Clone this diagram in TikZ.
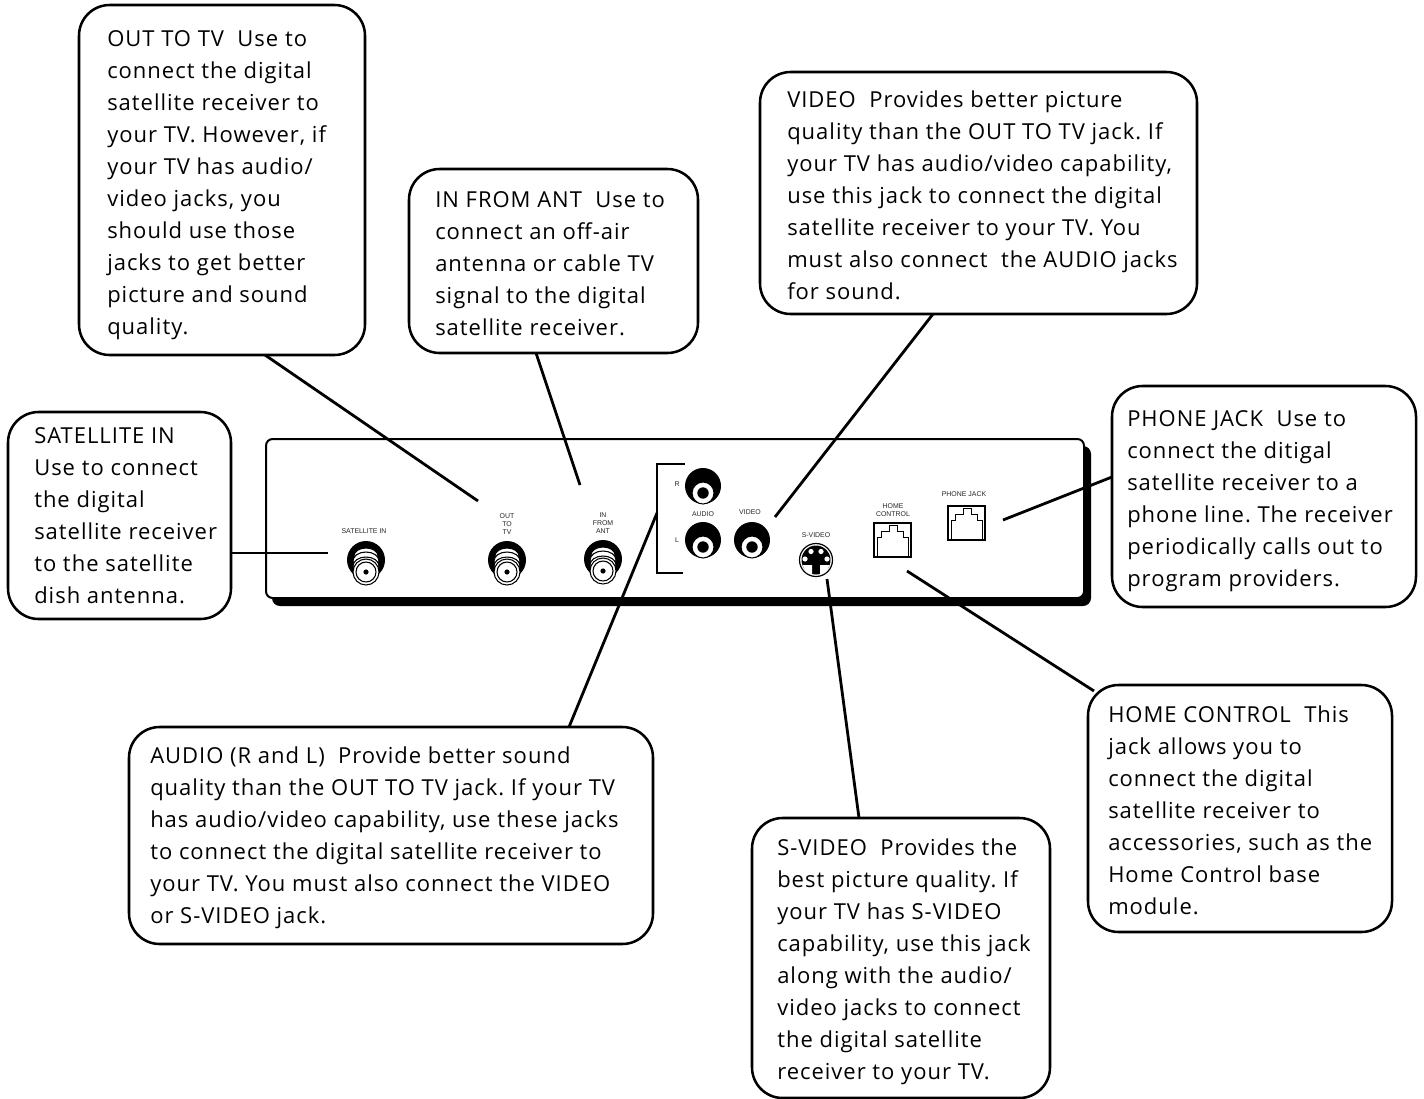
\documentclass[tikz,border=0pt]{standalone}
\usepackage{fontspec}
\setmainfont[LetterSpace=4.5]{Open Sans}
\newfontfamily\lblfont{Liberation Sans}
\newcommand{\callout}[8]{%
  \pgfmathsetlengthmacro{\cw}{(#4-#2)*0.75pt}%
  \pgfmathsetlengthmacro{\ch}{(#5-#3)*0.75pt}%
  \node[callout box,minimum width=\cw,minimum height=\ch] (#1) at ({(#2+#4)/2},{(#3+#5)/2}) {};
  \node[callout text] (#1t) at ({#2+#6},{#7-14.4}) {\strut #8};}
\tikzset{
  x=0.75pt,y=-0.75pt,
  callout box/.style={draw=black,line width=1.9pt,fill=white,rounded corners=23pt,anchor=center,inner sep=0pt},
  callout text/.style={anchor=north west,align=left,inner sep=0pt,
    font=\fontsize{16.5}{24}\selectfont\frenchspacing},
  leader/.style={draw=black,line width=2.1pt},
  tiny label/.style={font=\lblfont\fontsize{5.2}{6}\selectfont,align=center,inner sep=0pt,text=black!85},
  jack line/.style={draw=black,line width=0.8pt,fill=white},
  coax/.pic={
    \fill[black] (0,-12) circle [radius=19];
    \draw[jack line] (0,-16) ellipse [x radius=12,y radius=8];
    \draw[jack line] (0,-11) ellipse [x radius=13,y radius=9];
    \draw[jack line] (0,-6) ellipse [x radius=13,y radius=9];
    \draw[jack line] (0,0) circle [radius=13];
    \draw[jack line] (0,0) circle [radius=10];
    \fill[black] (0,0) circle [radius=2.6];
  },
  rca/.pic={
    \fill[black] (0,-7) circle [radius=18];
    \draw[jack line] (0,0) circle [radius=11];
    \fill[black] (0,0) circle [radius=5.7];
  },
  modjack/.pic={
    \draw[black,line width=0.8pt,fill=white] (0,0) rectangle (37,34);
    \draw[black,line width=0.6pt] (3,34) -- (3,14) -- (7,14) -- (7,8) -- (15,8) -- (15,2.5) -- (23,2.5) -- (23,8) -- (29,8) -- (29,14) -- (34,14) -- (34,34);
  }
}
\begin{document}
\begin{tikzpicture}
\useasboundingbox (0,0) rectangle (1424,1099);
% device body
\fill[black,rounded corners=6pt] (272,446) rectangle (1091,606);
\draw[black,line width=1.5pt,fill=white,rounded corners=5pt] (266,439) rectangle (1084,598);
% connector free ends
\coordinate (endOut) at (478,501);
\coordinate (endAnt) at (580,485);
\coordinate (endVid) at (775,517);
\coordinate (endSat) at (328,553);
\coordinate (endPhone) at (1003,520);
\coordinate (endAudio) at (657,513);
\coordinate (endS) at (827,579);
\coordinate (endHome) at (907,571);
% bracket
\draw[black,line width=1.5pt] (685,464) -- (657,464) -- (657,573) -- (683,573);
% jacks
\pic at (366,572) {coax};
\pic at (507,572) {coax};
\pic at (603,571) {coax};
\pic at (703,493) {rca};
\pic at (703,547) {rca};
\pic at (752,547) {rca};
% s-video
\draw[black,line width=0.9pt,fill=white] (816,560) circle [radius=16.5];
\fill[black] (816,560) circle [radius=14.5];
\fill[white] (811,551.5) circle [radius=2.6] (821,551.5) circle [radius=2.6] (805,559) circle [radius=2.6] (827,559) circle [radius=2.6];
\fill[white] (802.5,565) -- (812,565) -- (812,574.5) -- (806,572) -- cycle (829.5,565) -- (820,565) -- (820,574.5) -- (826,572) -- cycle;
% modular jacks
\pic at (874,523) {modjack};
\pic at (948,506) {modjack};
% small labels
\node[tiny label] (lSat) at (364,531.5) {SATELLITE IN};
\node[tiny label] (lOut) at (507,524) {OUT\\TO\\TV};
\node[tiny label] (lAnt) at (603,523) {IN\\FROM\\ANT};
\node[tiny label] (lR) at (677,484) {R};
\node[tiny label] (lL) at (677,540) {L};
\node[tiny label] (lAudio) at (703,514.5) {AUDIO};
\node[tiny label] (lVideo) at (750,512.5) {VIDEO};
\node[tiny label] (lS) at (816,535.5) {S-VIDEO};
\node[tiny label] (lHome) at (893,510) {HOME\\CONTROL};
\node[tiny label] (lPhone) at (964,494.5) {PHONE JACK};
% callouts
\callout{cOut}{79}{5}{365}{355}{28}{38}{OUT TO TV~ Use to\\connect the digital\\satellite receiver to\\your TV. However, if\\your TV has audio/\\video jacks, you\\should use those\\jacks to get better\\picture and sound\\quality.}
\callout{cAnt}{409}{169}{698}{353}{26}{199}{IN FROM ANT~ Use to\\connect an off-air\\antenna or cable TV\\signal to the digital\\satellite receiver.}
\callout{cVid}{760}{72}{1197}{314}{27}{99}{VIDEO~ Provides better picture\\quality than the OUT TO TV jack. If\\your TV has audio/video capability,\\use this jack to connect the digital\\satellite receiver to your TV. You\\must also connect~ the AUDIO jacks\\for sound.}
\callout{cSat}{8}{412}{231}{619}{26}{435}{SATELLITE IN\\Use to connect\\the digital\\satellite receiver\\to the satellite\\dish antenna.}
\callout{cPhone}{1112}{386}{1416}{607}{15}{418}{PHONE JACK~ Use to\\connect the ditigal\\satellite receiver to a\\phone line. The receiver\\periodically calls out to\\program providers.}
\callout{cAudio}{129}{727}{653}{944}{21}{755}{AUDIO (R and L)~ Provide better sound\\quality than the OUT TO TV jack. If your TV\\has audio/video capability, use these jacks\\to connect the digital satellite receiver to\\your TV. You must also connect the VIDEO\\or S-VIDEO jack.}
\callout{cS}{752}{818}{1050}{1098}{25}{847}{S-VIDEO~ Provides the\\best picture quality. If\\your TV has S-VIDEO\\capability, use this jack\\along with the audio/\\video jacks to connect\\the digital satellite\\receiver to your TV.}
\callout{cHome}{1088}{685}{1392}{932}{20}{714}{HOME CONTROL~ This\\jack allows you to\\connect the digital\\satellite receiver to\\accessories, such as the\\Home Control base\\module.}
% connectors
\draw[leader] (265,355) -- (endOut);
\draw[leader] (536,353) -- (endAnt);
\draw[leader] (933,314) -- (endVid);
\draw[leader] (cSat.east |- endSat) -- (endSat);
\draw[leader] (1112,477) -- (endPhone);
\draw[leader] (569,727) -- (endAudio);
\draw[leader] (859,818) -- (endS);
\draw[leader] (1094,691) -- (endHome);
\end{tikzpicture}
\end{document}
